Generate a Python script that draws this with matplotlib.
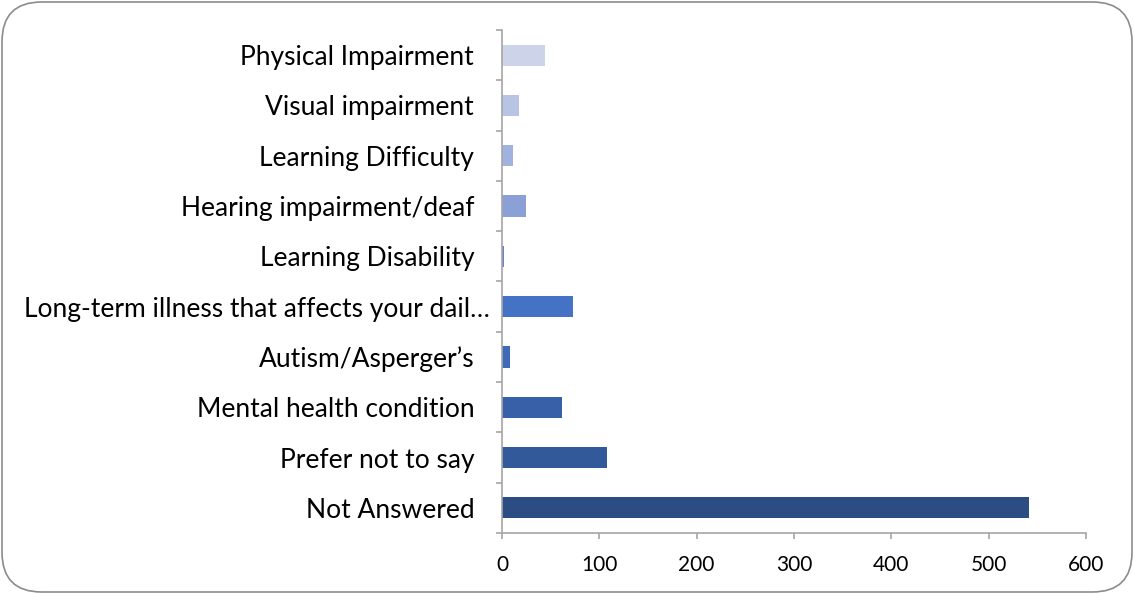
import numpy as np
import matplotlib
matplotlib.use("Agg")
import matplotlib.pyplot as plt
from matplotlib.patches import FancyBboxPatch
from matplotlib.transforms import ScaledTranslation

# ── data (top to bottom in the picture) ───────────────────────────────────────
categories = [
    "Physical Impairment",
    "Visual impairment",
    "Learning Difficulty",
    "Hearing impairment/deaf",
    "Learning Disability",
    "Long-term illness that affects your dail\u2026",
    "Autism/Asperger\u2019s",
    "Mental health condition",
    "Prefer not to say",
    "Not Answered",
]
counts = [44, 17, 11, 25, 2, 73, 8, 62, 108, 541]
colors = ["#CDD4EA", "#B8C4E4", "#A2B2DE", "#8AA0D6", "#6585CB",
          "#4472C4", "#3D6BB8", "#3760A8", "#325A9A", "#2C4D84"]
xticks = [0, 100, 200, 300, 400, 500, 600]

plt.rcParams['font.family'] = ['Lato', 'DejaVu Sans']
GRID = "#A6A6A6"

fig = plt.figure(figsize=(11.34, 5.94), dpi=100)
ax = fig.add_axes([502/1134, 1-533/594, 584/1134, 503/594])

n = len(categories)
y = np.arange(n)[::-1]
ax.barh(y, counts, height=0.42, color=colors)

ax.set_xlim(0, 600)
ax.set_ylim(-0.5, n - 0.5)
ax.set_xticks(xticks)
ax.set_xticklabels([str(t) for t in xticks], fontsize=15)
ax.set_yticks(y)
ax.set_yticklabels(categories, fontsize=19)
ax.set_yticks(np.arange(n + 1) - 0.5, minor=True)

ax.tick_params(axis="y", which="major", length=0, pad=20)
ax.tick_params(axis="y", which="minor", length=4.5, color=GRID, width=1.2)
ax.tick_params(axis="x", length=4.5, color=GRID, width=1.2, pad=11)

# the truncated long label sits closer to the axis (as in the original)
for lab in ax.get_yticklabels():
    if lab.get_text().endswith("\u2026"):
        lab.set_transform(lab.get_transform() +
                          ScaledTranslation(0.16, 0, fig.dpi_scale_trans))

for s in ["top", "right"]:
    ax.spines[s].set_visible(False)
for s in ["left", "bottom"]:
    ax.spines[s].set_color(GRID)
    ax.spines[s].set_linewidth(1.2)

# rounded chart border
border = FancyBboxPatch((2/1134, 2/594), 1130/1134, 590/594,
                        boxstyle="round,pad=0,rounding_size=0.035",
                        transform=fig.transFigure, fill=False,
                        edgecolor="#8C8C8C", linewidth=1.2,
                        mutation_aspect=1134/594)
fig.patches.append(border)

fig.savefig("out.png", dpi=100)
